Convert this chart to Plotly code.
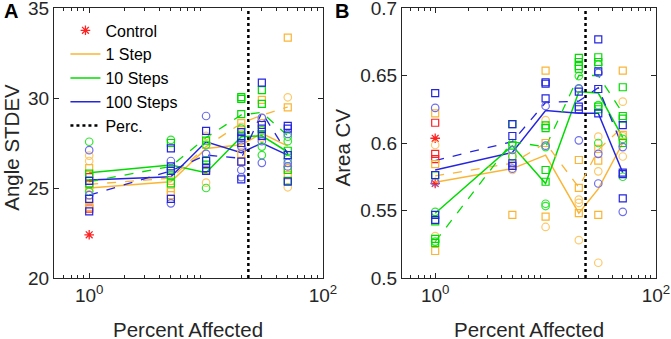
import plotly.graph_objects as go
from plotly.subplots import make_subplots

# ---------------- data ----------------
X = [1, 5, 10, 20, 30, 50]
PERC_X = 23
X_TICKS = [1, 100]
X_TICKTEXT = ["10<sup>0</sup>", "10<sup>2</sup>"]
X_MINOR = [0.6, 0.7, 0.8, 0.9, 2, 3, 4, 5, 6, 7, 8, 9, 20, 30, 40, 50, 60, 70, 80, 90]

# Panel A: Angle STDEV
A_CTRL = [22.4]
A_RED_SQ = [25.6, 25.2, 23.85]
A_OR_C = [[26.8, 26.5, 25.07], [25.4], [27.9, 25.3], [28.4, 27.4], [28.9, 27.8], [30.04, 25.04]]
A_OR_S = [[26.1, 25.0, 24.2, 23.95], [25.0, 24.8, 24.6], [27.4, 26.0], [28.6, 26.9, 26.46], [29.9, 28.6], [33.35, 29.48, 26.1, 25.7]]
A_GR_C = [[27.57, 24.8], [27.67, 26.0], [27.4, 25.0], [28.3], [28.2, 27.3, 26.83], [27.85, 27.6, 26.6]]
A_GR_S = [[25.8, 25.26], [27.5, 25.7, 25.26], [27.63, 26.55, 26.3], [30.05, 29.95, 29.1, 27.9], [30.44, 29.67, 28.0], [27.07, 26.0, 25.4]]
A_BL_C = [[27.1, 24.6], [26.5, 24.15], [29.0, 26.9], [27.3, 26.0, 25.6], [28.9, 27.6, 26.4], [28.0, 26.4, 26.2]]
A_BL_S = [[25.4, 24.4, 23.7], [27.2, 26.2, 25.95, 24.4], [28.17, 26.5, 26.1, 25.95], [28.1, 27.8, 27.5, 26.46, 25.48], [30.85, 28.5, 28.3, 27.9], [28.45, 28.3, 26.83, 25.35]]
A_OR_SOLID = [25.0, 25.35, 27.2, 27.4, 28.04, 27.33]
A_OR_DASH = [25.2, 25.55, 27.3, 28.6, 29.05, 29.5]
A_GR_SOLID = [25.85, 26.28, 25.85, 27.85, 27.9, 27.0]
A_GR_DASH = [25.35, 26.2, 27.8, 29.06, 29.2, 27.9]
A_BL_SOLID = [25.44, 25.63, 27.57, 26.96, 27.5, 26.83]
A_BL_DASH = [24.6, 25.95, 26.83, 26.65, 29.2, 26.9]
A_YTICKS = [20, 25, 30, 35]

# Panel B: Area CV
B_CTRL = [0.6035, 0.570]
B_RED_SQ = [0.615, 0.5919, 0.588]
B_OR_C = [[0.5985, 0.531], [0.580], [0.617, 0.5378], [0.558, 0.5556, 0.528], [0.6047, 0.579, 0.5113], [0.6306, 0.605, 0.590]]
B_OR_S = [[0.622, 0.5844, 0.520], [0.5467, 0.590], [0.6536, 0.5454, 0.600], [0.5874, 0.5667, 0.548], [0.5956, 0.5467, 0.587], [0.6536, 0.606]]
B_GR_C = [[0.549, 0.527], [0.600, 0.590], [0.597, 0.5533, 0.555], [0.6496, 0.640], [0.658, 0.628, 0.600], [0.603, 0.575]]
B_GR_S = [[0.576, 0.542, 0.529, 0.526], [0.614, 0.598], [0.613, 0.611, 0.580, 0.5713], [0.663, 0.660, 0.657, 0.655], [0.6635, 0.660, 0.627, 0.625], [0.6413, 0.620, 0.618, 0.600]]
B_BL_C = [[0.626, 0.571], [0.5948, 0.581], [0.6274, 0.598], [0.6405, 0.602], [0.652, 0.592, 0.570], [0.597, 0.549]]
B_BL_S = [[0.637, 0.5763, 0.5467, 0.543], [0.614, 0.6052, 0.585, 0.583], [0.645, 0.644, 0.633], [0.638, 0.627, 0.625], [0.6768, 0.653, 0.640, 0.622], [0.6133, 0.5781, 0.577, 0.559]]
B_OR_SOLID = [0.571, 0.581, 0.591, 0.548, 0.566, 0.600]
B_OR_DASH = [0.5756, 0.585, 0.600, 0.567, 0.595, 0.612]
B_GR_SOLID = [0.548, 0.598, 0.570, 0.638, 0.637, 0.604]
B_GR_DASH = [0.527, 0.601, 0.597, 0.650, 0.650, 0.622]
B_BL_SOLID = [0.580, 0.593, 0.624, 0.622, 0.622, 0.578]
B_BL_DASH = [0.587, 0.601, 0.630, 0.631, 0.641, 0.597]
B_YTICKS = [0.5, 0.55, 0.6, 0.65, 0.7]
B_YTICKTEXT = ["0.5", "0.55", "0.6", "0.65", "0.7"]

LEGEND_NAMES = ["Control", "1 Step", "10 Steps", "100 Steps", "Perc."]

# ---------------- styling ----------------
OR, OR_L = "#FBB535", "#FDC96A"
GR, GR_L = "#00DC00", "#33E633"
BL, BL_L = "#2525E0", "#6E6EEE"
RED = "#FF2222"
FONT = "Liberation Sans, Arial, sans-serif"
AX = "#262626"

fig = make_subplots(rows=1, cols=2, horizontal_spacing=0.13)


def flat(lists):
    xs, ys = [], []
    for x, vals in zip(X, lists):
        for v in vals:
            xs.append(x)
            ys.append(v)
    return xs, ys


def add_panel(col, ctrl, redsq, groups, lines, ymin, ymax, legend):
    fig.add_trace(go.Scatter(x=[1] * len(ctrl), y=ctrl, mode="markers", name=LEGEND_NAMES[0],
                             marker=dict(symbol="asterisk-open", size=8, color=RED, line=dict(color=RED, width=1.3)),
                             showlegend=legend), row=1, col=col)
    for i, (solid, dash, color) in enumerate(lines):
        fig.add_trace(go.Scatter(x=X, y=solid, mode="lines", name=LEGEND_NAMES[i + 1],
                                 line=dict(color=color, width=1.5), showlegend=legend), row=1, col=col)
    fig.add_trace(go.Scatter(x=[PERC_X, PERC_X], y=[ymin, ymax], mode="lines", name=LEGEND_NAMES[4],
                             line=dict(color="black", width=2.5, dash="dot"), showlegend=legend), row=1, col=col)
    for solid, dash, color in lines:
        fig.add_trace(go.Scatter(x=X, y=dash, mode="lines", line=dict(color=color, width=1.3, dash="dash"),
                                 showlegend=False), row=1, col=col)
    fig.add_trace(go.Scatter(x=[1] * len(redsq), y=redsq, mode="markers",
                             marker=dict(symbol="square-open", size=7, color=RED, line=dict(width=1.2)),
                             showlegend=False), row=1, col=col)
    for data, sym, color in groups:
        xs, ys = flat(data)
        fig.add_trace(go.Scatter(x=xs, y=ys, mode="markers",
                                 marker=dict(symbol=sym, size=7.5 if sym == "circle-open" else 7, color=color,
                                             line=dict(width=1.2)),
                                 showlegend=False), row=1, col=col)


add_panel(1, A_CTRL, A_RED_SQ,
          [(A_OR_C, "circle-open", OR_L), (A_OR_S, "square-open", OR),
           (A_GR_C, "circle-open", GR_L), (A_GR_S, "square-open", GR),
           (A_BL_C, "circle-open", BL_L), (A_BL_S, "square-open", BL)],
          [(A_OR_SOLID, A_OR_DASH, OR), (A_GR_SOLID, A_GR_DASH, GR), (A_BL_SOLID, A_BL_DASH, BL)],
          A_YTICKS[0], A_YTICKS[-1], True)
add_panel(2, B_CTRL, B_RED_SQ,
          [(B_OR_C, "circle-open", OR_L), (B_OR_S, "square-open", OR),
           (B_GR_C, "circle-open", GR_L), (B_GR_S, "square-open", GR),
           (B_BL_C, "circle-open", BL_L), (B_BL_S, "square-open", BL)],
          [(B_OR_SOLID, B_OR_DASH, OR), (B_GR_SOLID, B_GR_DASH, GR), (B_BL_SOLID, B_BL_DASH, BL)],
          B_YTICKS[0], B_YTICKS[-1], False)

xaxis_common = dict(type="log", range=[-0.301, 2.0], tickmode="array", tickvals=X_TICKS, ticktext=X_TICKTEXT,
                    ticks="inside", ticklen=5, tickcolor=AX, showline=True, linecolor=AX, linewidth=1,
                    mirror="allticks", showgrid=False, zeroline=False, ticklabeloverflow="allow",
                    automargin=False,
                    minor=dict(tickmode="array", tickvals=X_MINOR, ticks="inside", ticklen=3,
                               tickcolor=AX, showgrid=False),
                    tickfont=dict(family=FONT, size=19, color="#262626"))
fig.update_xaxes(**xaxis_common)
fig.update_xaxes(domain=[0, 0.4468], row=1, col=1)
fig.update_xaxes(domain=[0.578, 1.0], row=1, col=2)

yaxis_common = dict(ticks="inside", ticklen=5, tickcolor=AX, showline=True, linecolor=AX, linewidth=1,
                    mirror="allticks", showgrid=False, zeroline=False, ticklabeloverflow="allow",
                    automargin=False,
                    tickfont=dict(family=FONT, size=19, color="#262626"))
fig.update_yaxes(**yaxis_common)
fig.update_yaxes(range=[A_YTICKS[0], A_YTICKS[-1]], tickmode="array", tickvals=A_YTICKS, row=1, col=1)
fig.update_yaxes(range=[B_YTICKS[0], B_YTICKS[-1]], tickmode="array", tickvals=B_YTICKS,
                 ticktext=B_YTICKTEXT, row=1, col=2)

ann = []
tf = dict(family=FONT, size=20.5, color="#262626")
ann.append(dict(text="Percent Affected", x=0.2234, y=-0.19, xref="paper", yref="paper",
                showarrow=False, font=tf, xanchor="center", yanchor="middle"))
ann.append(dict(text="Percent Affected", x=0.789, y=-0.19, xref="paper", yref="paper",
                showarrow=False, font=tf, xanchor="center", yanchor="middle"))
ann.append(dict(text="Angle STDEV", x=-0.072, y=0.485, xref="paper", yref="paper", textangle=-90,
                showarrow=False, font=tf, xanchor="center", yanchor="middle"))
ann.append(dict(text="Area CV", x=0.479, y=0.485, xref="paper", yref="paper", textangle=-90,
                showarrow=False, font=tf, xanchor="center", yanchor="middle"))
lf = dict(family=FONT, size=20, color="black")
ann.append(dict(text="<b>A</b>", x=-0.072, y=0.99, xref="paper", yref="paper",
                showarrow=False, font=lf, xanchor="center", yanchor="middle"))
ann.append(dict(text="<b>B</b>", x=0.478, y=0.99, xref="paper", yref="paper",
                showarrow=False, font=lf, xanchor="center", yanchor="middle"))

fig.update_layout(
    width=671, height=339,
    margin=dict(l=54, r=15, t=8, b=61, autoexpand=False),
    paper_bgcolor="white", plot_bgcolor="white",
    annotations=ann,
    showlegend=True,
    legend=dict(x=0.019, y=0.98, xanchor="left", yanchor="top", bgcolor="rgba(0,0,0,0)",
                font=dict(family=FONT, size=16, color="black"), tracegroupgap=0,
                itemwidth=30),
)

fig.write_html("out.html", config={"displayModeBar": False},
               post_script="document.body.style.margin='0px';")
